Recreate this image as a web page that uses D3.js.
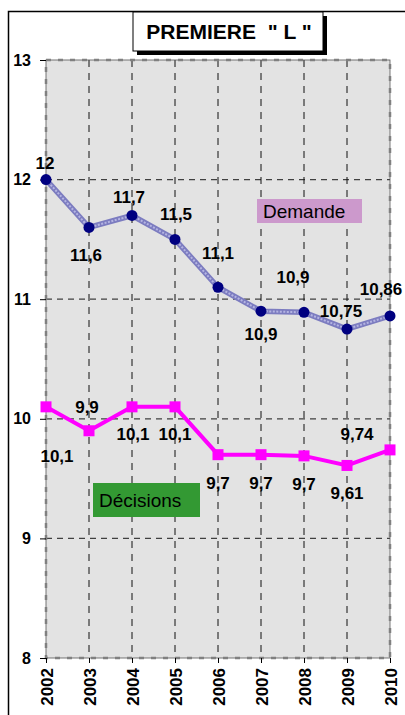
<!DOCTYPE html>
<html><head><meta charset="utf-8">
<script src="https://cdn.jsdelivr.net/npm/d3@7"></script>
<style>body{margin:0;background:#fff}svg{display:block;font-family:"Liberation Sans",Arial,sans-serif}</style>
</head><body><svg id="c" width="405" height="715"></svg>
<script>
const years = [2002,2003,2004,2005,2006,2007,2008,2009,2010];
const demande = [12,11.6,11.7,11.5,11.1,10.9,10.89,10.75,10.86];
const decisions = [10.1,9.9,10.1,10.1,9.7,9.7,9.69,9.61,9.74];
const demandeLabels = ["12","11,6","11,7","11,5","11,1","10,9","10,9","10,75","10,86"];
const decisionsLabels = ["10,1","9,9","10,1","10,1","9,7","9,7","9,7","9,61","9,74"];
const yTicks = [8,9,10,11,12,13];
const title = 'PREMIERE  " L "';

const svg = d3.select("#c");
const x = d3.scaleLinear().domain([2002,2010]).range([46,390]);
const y = d3.scaleLinear().domain([8,13]).range([658,60]);
const FF = "Liberation Sans, Arial, sans-serif";

// outer frame
svg.append("path").attr("d","M8.5,715 V11.5 H405").attr("fill","none").attr("stroke","#000").attr("stroke-width",1.5);

// plot bg
svg.append("rect").attr("x",x(2002)).attr("y",y(13)).attr("width",x(2010)-x(2002)).attr("height",y(8)-y(13)).attr("fill","#e3e3e3");

// gridlines
const g = svg.append("g");
g.selectAll(".hg").data(yTicks.filter(d=>d>8&&d<13)).join("line")
  .attr("x1",x(2002)).attr("x2",x(2010)).attr("y1",d=>y(d)).attr("y2",d=>y(d))
  .attr("stroke","#404040").attr("stroke-width",1.2).attr("stroke-dasharray","6,5");
g.selectAll(".vg").data(years.slice(1,-1)).join("line")
  .attr("x1",d=>x(d)).attr("x2",d=>x(d)).attr("y1",y(13)).attr("y2",y(8))
  .attr("stroke","#111").attr("stroke-width",1).attr("stroke-dasharray","7,6");

// border
svg.append("rect").attr("x",x(2002)).attr("y",y(13)).attr("width",x(2010)-x(2002)).attr("height",y(8)-y(13))
  .attr("fill","none").attr("stroke","#555").attr("stroke-width",0.8);
svg.append("rect").attr("x",x(2002)).attr("y",y(13)).attr("width",x(2010)-x(2002)).attr("height",y(8)-y(13))
  .attr("fill","none").attr("stroke","#808080").attr("stroke-width",2.5).attr("stroke-dasharray","5,7");

// axes
const ya = d3.axisLeft(y).tickValues(yTicks).tickSize(6).tickFormat(d3.format("d"));
svg.append("g").attr("transform",`translate(${x(2002)},0)`).call(ya)
  .call(s=>{s.attr("font-family",null).attr("font-size",null);s.select(".domain").remove();s.selectAll("line").attr("stroke","#000");
    s.selectAll("text").style("font-size","16px").style("font-weight","bold").style("font-family",FF).attr("fill","#000").attr("x",-15);});
const xa = d3.axisBottom(x).tickValues(years).tickSize(5).tickFormat(d3.format("d"));
svg.append("g").attr("transform",`translate(0,${y(8)})`).call(xa)
  .call(s=>{s.attr("font-family",null).attr("font-size",null);s.select(".domain").remove();s.selectAll("line").attr("stroke","#000");
    s.selectAll("text").style("font-size","17px").style("font-weight","bold").style("font-family",FF).attr("fill","#000")
     .attr("transform","rotate(-90)").attr("text-anchor","end").attr("x",-10).attr("y",0).attr("dy","0.36em");});

// demande line
const line = d3.line().x((d,i)=>x(years[i])).y(d=>y(d));
svg.append("path").datum(demande).attr("d",line).attr("fill","none").attr("stroke","#7c7cc0").attr("stroke-width",5.5).attr("stroke-linejoin","round");
svg.append("path").datum(demande).attr("d",line).attr("fill","none").attr("stroke","#b4b4e2").attr("stroke-width",2).attr("stroke-dasharray","2,1.5");
svg.selectAll(".dd").data(demande).join("circle").attr("cx",(d,i)=>x(years[i])).attr("cy",d=>y(d)).attr("r",5.5).attr("fill","#000080");

// decisions line
svg.append("path").datum(decisions).attr("d",line).attr("fill","none").attr("stroke","#ff00ff").attr("stroke-width",4);
svg.selectAll(".ds").data(decisions).join("rect").attr("x",(d,i)=>x(years[i])-5.5).attr("y",d=>y(d)-5.5).attr("width",11).attr("height",11).attr("fill","#ff00ff");

// data labels (offsets relative to point)
const dOff = [[-1,-17],[-3,28],[-3,-18],[1,-25],[0,-34],[0,23],[-11,-35],[-6,-18],[-9,-27]];
const cOff = [[11,49],[-2,-24],[1,27],[0,27],[0,28],[0,28],[0,28],[0,28],[-33,-16]];
const lab = (vals,labels,off)=>svg.append("g").selectAll("text").data(vals).join("text")
  .attr("x",(d,i)=>x(years[i])+off[i][0]).attr("y",(d,i)=>y(d)+off[i][1])
  .attr("text-anchor","middle").style("font-size","17px").style("font-weight","bold").attr("fill","#000")
  .attr("dy","0.35em").text((d,i)=>labels[i]);
lab(demande,demandeLabels,dOff);
lab(decisions,decisionsLabels,cOff);

// legend boxes
svg.append("rect").attr("x",257).attr("y",199).attr("width",105).attr("height",24).attr("fill","#cc99cc");
svg.append("text").attr("x",263).attr("y",218).style("font-size","19px").attr("fill","#000").text("Demande");
svg.append("rect").attr("x",93).attr("y",483).attr("width",107).attr("height",34).attr("fill","#339933");
svg.append("text").attr("x",99).attr("y",507).style("font-size","19px").attr("fill","#000").text("Décisions");

// title
svg.append("rect").attr("x",137).attr("y",16).attr("width",190).attr("height",39).attr("fill","#000");
svg.append("rect").attr("x",133).attr("y",12).attr("width",190).attr("height",39).attr("fill","#fff").attr("stroke","#000").attr("stroke-width",1);
svg.append("text").attr("x",229).attr("y",39).attr("text-anchor","middle").style("font-size","21px").style("font-weight","bold").attr("fill","#000").style("white-space","pre").text(title);
</script></body></html>
